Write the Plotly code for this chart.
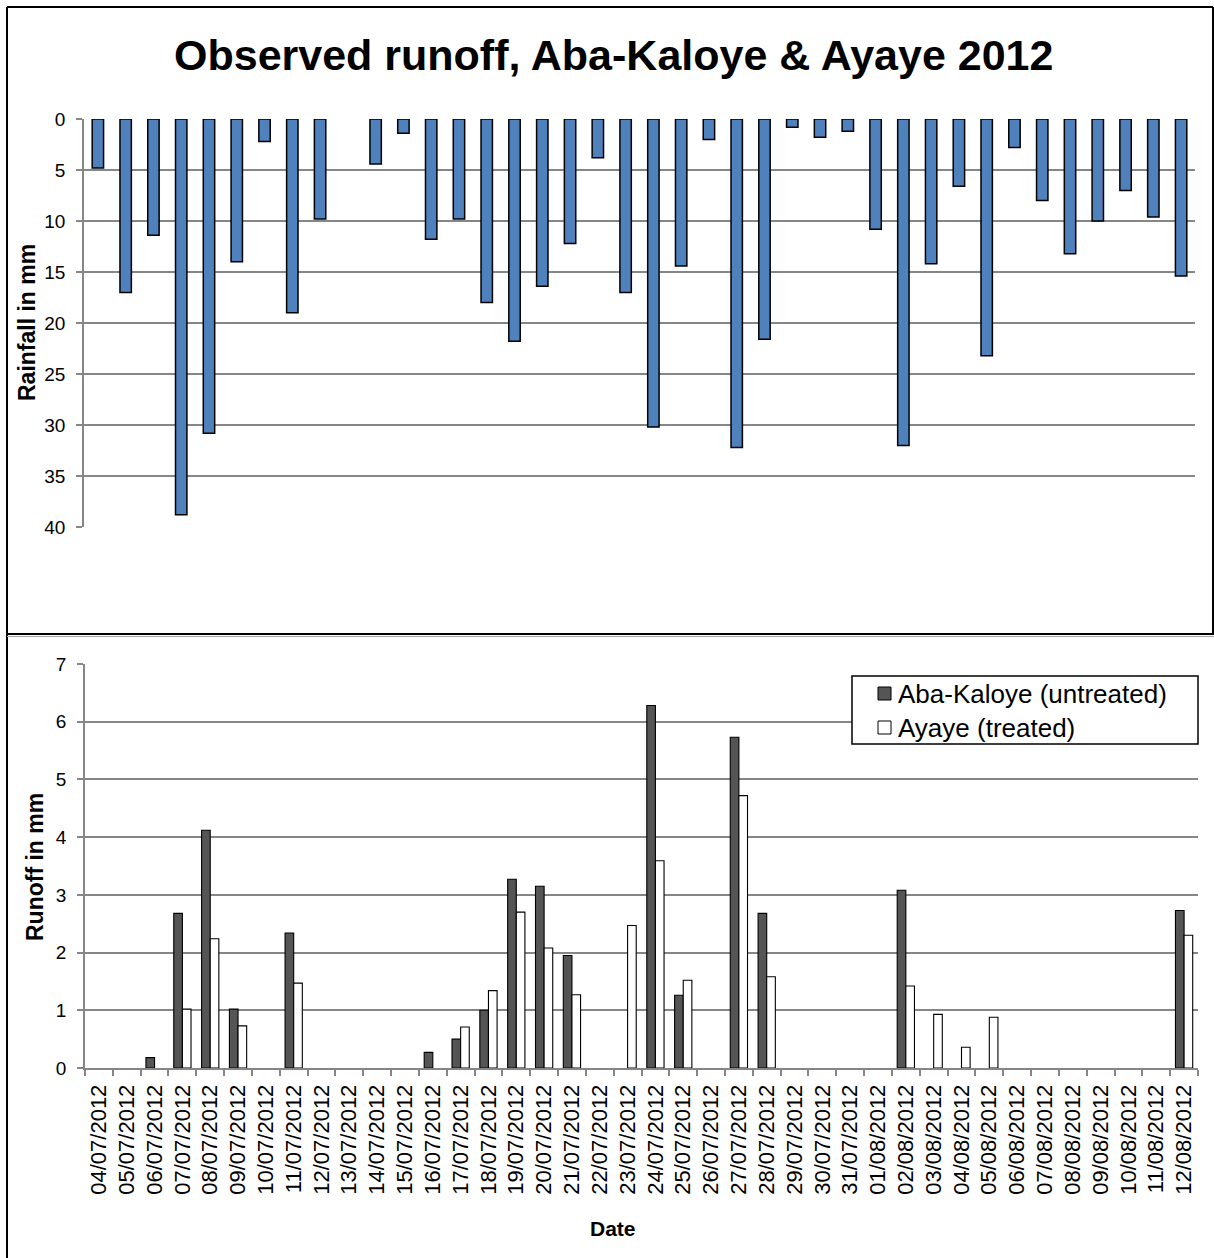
import plotly.graph_objects as go

# Daily dates, 4 July - 12 August 2012
dates = [
    "04/07/2012", "05/07/2012", "06/07/2012", "07/07/2012", "08/07/2012",
    "09/07/2012", "10/07/2012", "11/07/2012", "12/07/2012", "13/07/2012",
    "14/07/2012", "15/07/2012", "16/07/2012", "17/07/2012", "18/07/2012",
    "19/07/2012", "20/07/2012", "21/07/2012", "22/07/2012", "23/07/2012",
    "24/07/2012", "25/07/2012", "26/07/2012", "27/07/2012", "28/07/2012",
    "29/07/2012", "30/07/2012", "31/07/2012", "01/08/2012", "02/08/2012",
    "03/08/2012", "04/08/2012", "05/08/2012", "06/08/2012", "07/08/2012",
    "08/08/2012", "09/08/2012", "10/08/2012", "11/08/2012", "12/08/2012",
]

# Daily rainfall (mm)
rainfall = [
    4.8, 17.0, 11.4, 38.8, 30.8, 14.0, 2.2, 19.0, 9.8, 0.0,
    4.4, 1.4, 11.8, 9.8, 18.0, 21.8, 16.4, 12.2, 3.8, 17.0,
    30.2, 14.4, 2.0, 32.2, 21.6, 0.8, 1.8, 1.2, 10.8, 32.0,
    14.2, 6.6, 23.2, 2.8, 8.0, 13.2, 10.0, 7.0, 9.6, 15.4,
]

# Daily runoff (mm), untreated catchment
runoff_aba_kaloye = [
    0.0, 0.0, 0.18, 2.68, 4.12, 1.02, 0.0, 2.34, 0.0, 0.0,
    0.0, 0.0, 0.27, 0.50, 1.00, 3.27, 3.15, 1.95, 0.0, 0.0,
    6.28, 1.26, 0.0, 5.73, 2.68, 0.0, 0.0, 0.0, 0.0, 3.08,
    0.0, 0.0, 0.0, 0.0, 0.0, 0.0, 0.0, 0.0, 0.0, 2.73,
]

# Daily runoff (mm), treated catchment
runoff_ayaye = [
    0.0, 0.0, 0.0, 1.02, 2.24, 0.73, 0.0, 1.47, 0.0, 0.0,
    0.0, 0.0, 0.0, 0.71, 1.34, 2.70, 2.08, 1.27, 0.0, 2.47,
    3.59, 1.52, 0.0, 4.72, 1.58, 0.0, 0.0, 0.0, 0.0, 1.42,
    0.93, 0.36, 0.88, 0.0, 0.0, 0.0, 0.0, 0.0, 0.0, 2.30,
]

series_names = ["Aba-Kaloye (untreated)", "Ayaye (treated)"]
series_colors = ["#555555", "#FFFFFF"]

W, H = 1214, 1258
FONT = "Liberation Sans, Arial, sans-serif"
GRID = "#868686"


def px_x(p):
    return p / W


def px_y(p):
    return 1 - p / H


def nz(values):
    # empty days draw no bar
    return [v if v > 0 else None for v in values]


fig = go.Figure()

# Rainfall, hanging from the top of the upper panel
fig.add_trace(go.Bar(
    x=dates, y=nz(rainfall), xaxis="x", yaxis="y",
    marker=dict(color="#4F81BD", line=dict(color="black", width=1.5)),
    width=0.41, offset=-0.205, showlegend=False, name="Rainfall",
))

# Runoff, paired bars in the lower panel
for values, name, color, off in zip(
        [runoff_aba_kaloye, runoff_ayaye], series_names, series_colors, [-0.31, 0.0]):
    fig.add_trace(go.Bar(
        x=dates, y=nz(values), xaxis="x2", yaxis="y2",
        marker=dict(color=color, line=dict(color="black", width=1.1)),
        width=0.31, offset=off, name=name, showlegend=False,
    ))

axis_common = dict(automargin=False, fixedrange=True, zeroline=False)

fig.update_layout(
    width=W, height=H,
    margin=dict(l=0, r=0, t=0, b=0, pad=0),
    paper_bgcolor="white", plot_bgcolor="white",
    template="none",
    font=dict(family=FONT, color="black"),
    barmode="overlay",
    showlegend=False,
    xaxis=dict(
        **axis_common, domain=[px_x(84), px_x(1195)], anchor="y",
        type="category", categoryorder="array", categoryarray=dates,
        range=[-0.5, len(dates) - 0.5],
        showticklabels=False, showgrid=False, showline=False, ticks="",
    ),
    yaxis=dict(
        **axis_common, domain=[px_y(527), px_y(119)], anchor="x",
        range=[40, 0], tickmode="linear", tick0=0, dtick=5,
        showgrid=True, gridcolor=GRID, gridwidth=1.7,
        showline=True, linecolor=GRID, linewidth=1.7,
        ticks="outside", ticklen=6, tickcolor=GRID, tickwidth=1.7,
        ticklabelstandoff=7,
        tickfont=dict(size=19, family=FONT, color="black"),
    ),
    xaxis2=dict(
        **axis_common, domain=[px_x(85), px_x(1198)], anchor="y2",
        type="category", categoryorder="array", categoryarray=dates,
        range=[-0.5, len(dates) - 0.5],
        showgrid=False, showline=True, linecolor=GRID, linewidth=1.7,
        ticks="outside", tickson="boundaries", ticklen=6,
        tickcolor=GRID, tickwidth=1.7,
        tickangle=-90, ticklabelstandoff=6,
        tickfont=dict(size=22, family=FONT, color="black"),
    ),
    yaxis2=dict(
        **axis_common, domain=[px_y(1068), px_y(664)], anchor="x2",
        range=[0, 7], tickmode="linear", tick0=0, dtick=1,
        showgrid=True, gridcolor=GRID, gridwidth=1.7,
        showline=True, linecolor=GRID, linewidth=1.7,
        ticks="outside", ticklen=6, tickcolor=GRID, tickwidth=1.7,
        ticklabelstandoff=7,
        tickfont=dict(size=19, family=FONT, color="black"),
    ),
)

annotations = [
    dict(text="<b>Observed runoff, Aba-Kaloye &amp; Ayaye 2012</b>",
         x=px_x(613), y=px_y(55), font=dict(size=43)),
    dict(text="<b>Rainfall in mm</b>", x=px_x(27), y=px_y(323),
         textangle=-90, font=dict(size=23)),
    dict(text="<b>Runoff in mm</b>", x=px_x(35), y=px_y(867),
         textangle=-90, font=dict(size=23)),
    dict(text="<b>Date</b>", x=px_x(613), y=px_y(1228), font=dict(size=21)),
]

# Legend for the runoff panel
legend_rows = [694, 728]
shapes = [
    dict(type="rect", xref="paper", yref="paper",
         x0=px_x(852), x1=px_x(1198), y0=px_y(676), y1=px_y(744),
         fillcolor="white", line=dict(color="black", width=1.5), layer="above"),
]
for row, name, color in zip(legend_rows, series_names, series_colors):
    shapes.append(dict(type="rect", xref="paper", yref="paper",
                       x0=px_x(878), x1=px_x(891), y0=px_y(row - 7), y1=px_y(row + 6),
                       fillcolor=color, line=dict(color="black", width=1), layer="above"))
    annotations.append(dict(text=name, x=px_x(896), y=px_y(row), xanchor="left",
                            font=dict(size=26)))

for a in annotations:
    a.setdefault("xanchor", "center")
    a.update(xref="paper", yref="paper", yanchor="middle", showarrow=False)
    a["font"].update(family=FONT, color="black")
fig.update_layout(annotations=annotations)

# Panel frames
frame = dict(type="line", xref="paper", yref="paper", line=dict(color="black", width=2))
shapes += [
    dict(frame, x0=px_x(7), x1=px_x(1213), y0=px_y(7), y1=px_y(7)),
    dict(frame, x0=px_x(7), x1=px_x(7), y0=px_y(7), y1=0),
    dict(frame, x0=px_x(1213), x1=px_x(1213), y0=px_y(7), y1=px_y(634)),
    dict(frame, x0=px_x(7), x1=1, y0=px_y(634), y1=px_y(634)),
    dict(type="line", xref="paper", yref="paper",
         x0=px_x(7), x1=1, y0=px_y(636.5), y1=px_y(636.5),
         line=dict(color="#A6A6A6", width=1)),
]
fig.update_layout(shapes=shapes)

fig.write_html("out.html")
